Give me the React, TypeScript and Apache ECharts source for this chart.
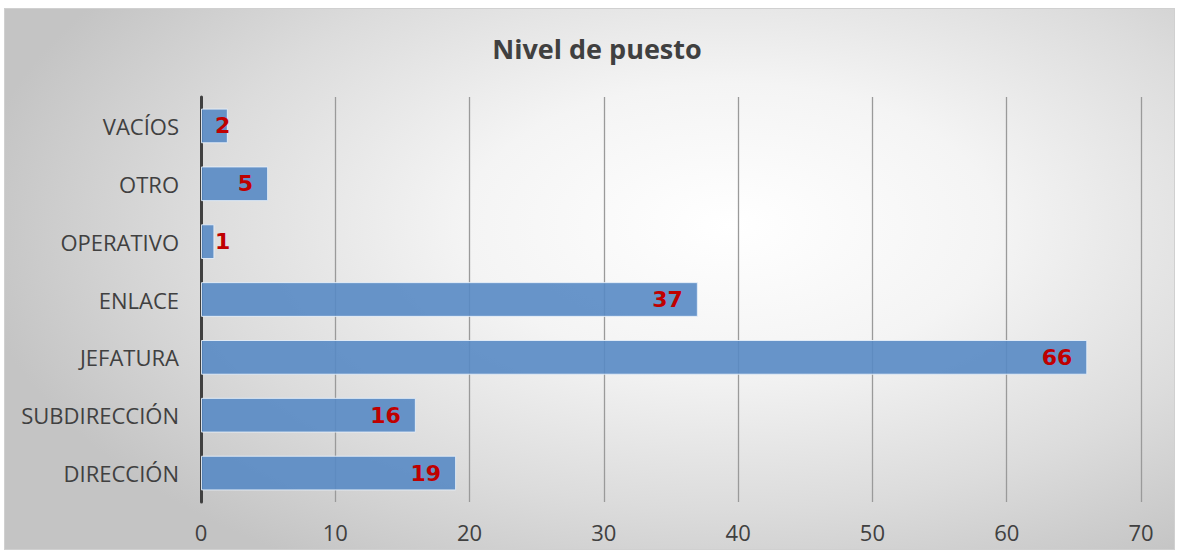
import React, { useEffect, useRef } from "react";
import * as echarts from "echarts";

const categories = ["DIRECCIÓN", "SUBDIRECCIÓN", "JEFATURA", "ENLACE", "OPERATIVO", "OTRO", "VACÍOS"];
const values = [19, 16, 66, 37, 1, 5, 2];
const title = "Nivel de puesto";

export default function App() {
  const ref = useRef<HTMLDivElement>(null);
  useEffect(() => {
    if (!ref.current) return;
    const chart = echarts.init(ref.current, undefined, { renderer: "svg" });
    chart.setOption({
      animation: false,
      title: {
        text: title,
        left: 587,
        textAlign: "center",
        top: 21,
        textStyle: { fontFamily: "Open Sans", fontWeight: "bold", fontSize: 27, color: "#404040" },
      },
      grid: { left: 196, top: 88, width: 940, height: 405, containLabel: false },
      xAxis: {
        type: "value",
        min: 0,
        max: 70,
        interval: 10,
        axisLine: { show: false },
        axisTick: { show: false },
        splitLine: { show: true, lineStyle: { color: "#9a9a9a", width: 1.3 } },
        axisLabel: { margin: 19, fontFamily: "Open Sans", fontSize: 22, color: "#404040" },
      },
      yAxis: {
        type: "category",
        data: categories,
        axisLine: { show: true, lineStyle: { color: "#404040", width: 3 } },
        axisTick: { show: false },
        axisLabel: { margin: 22, fontFamily: "Open Sans", fontSize: 22, color: "#404040" },
      },
      series: [
        {
          type: "bar",
          data: values.map((v) =>
            v <= 2
              ? { value: v, label: { position: "insideLeft", distance: 14 } }
              : { value: v }
          ),
          barCategoryGap: "40%",
          itemStyle: {
            color: "rgba(88,137,196,0.9)",
            borderColor: "rgba(230,238,248,0.9)",
            borderWidth: 1,
          },
          label: {
            show: true,
            position: "insideRight",
            distance: 15,
            fontFamily: "DejaVu Sans",
            fontWeight: "bold",
            fontSize: 22,
            color: "#C00000",
          },
        },
      ],
    });
    return () => chart.dispose();
  }, []);
  return (
    <div
      style={{
        position: "absolute",
        left: 4,
        top: 8,
        width: 1171,
        height: 542,
        boxSizing: "border-box",
        border: "1px solid #d0d0d0",
        background:
          "radial-gradient(ellipse 65% 75% at 62% 40%, #ffffff 0%, #f4f4f4 35%, #dcdcdc 70%, #c4c4c4 100%)",
      }}
    >
      <div ref={ref} style={{ width: "100%", height: "100%" }} />
    </div>
  );
}
